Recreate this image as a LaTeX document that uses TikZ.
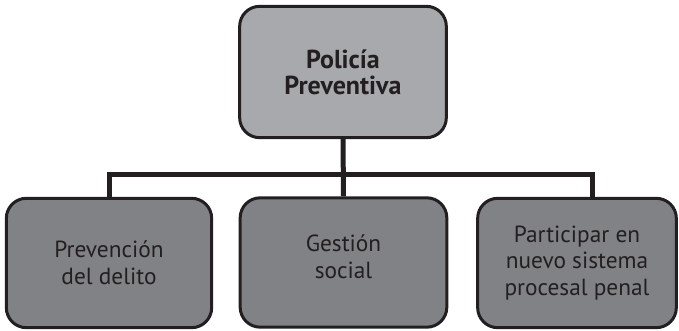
\documentclass[tikz,border=0pt]{standalone}
\usepackage{fontspec}
\setmainfont{PT Sans}
\usepackage{tikz}
\definecolor{inkgray}{HTML}{231F20}
\definecolor{topgray}{HTML}{A7A9AC}
\definecolor{boxgray}{HTML}{808285}
\tikzset{
  box/.style={draw=inkgray, line width=2.25pt, rounded corners=15pt,
    align=center, text=inkgray, minimum height=97pt, inner sep=2pt},
  topbox/.style={box, fill=topgray, font=\bfseries\fontsize{19.5}{19.5}\selectfont},
  subbox/.style={box, fill=boxgray, font=\fontsize{17.5}{20}\selectfont},
  conn/.style={draw=inkgray, line width=3.75pt}
}
\begin{document}
\begin{tikzpicture}[x=0.75pt,y=-0.75pt]
  \useasboundingbox (0,0) rectangle (679,331);
  % Top node
  \node[topbox, minimum width=155pt, minimum height=98.5pt] (pol) at (343,72) {Policía\\Preventiva};
  % Three sub nodes
  \node[subbox, minimum width=154pt] (pd) at (109,263) {Prevención\\del delito};
  \node[subbox, minimum width=155pt, text depth=9pt] (gs) at (343.5,262.5) {Gestión\\social};
  \node[subbox, minimum width=149pt] (pp) at (577,263) {Participar en\\nuevo sistema\\procesal penal};
  % Connectors
  \coordinate (bus) at (343,175);
  \draw[conn] (pol.south) -- (gs.north);
  \draw[conn] (pd.north) |- (bus) -| ([xshift=11.25pt]pp.north);
\end{tikzpicture}
\end{document}
